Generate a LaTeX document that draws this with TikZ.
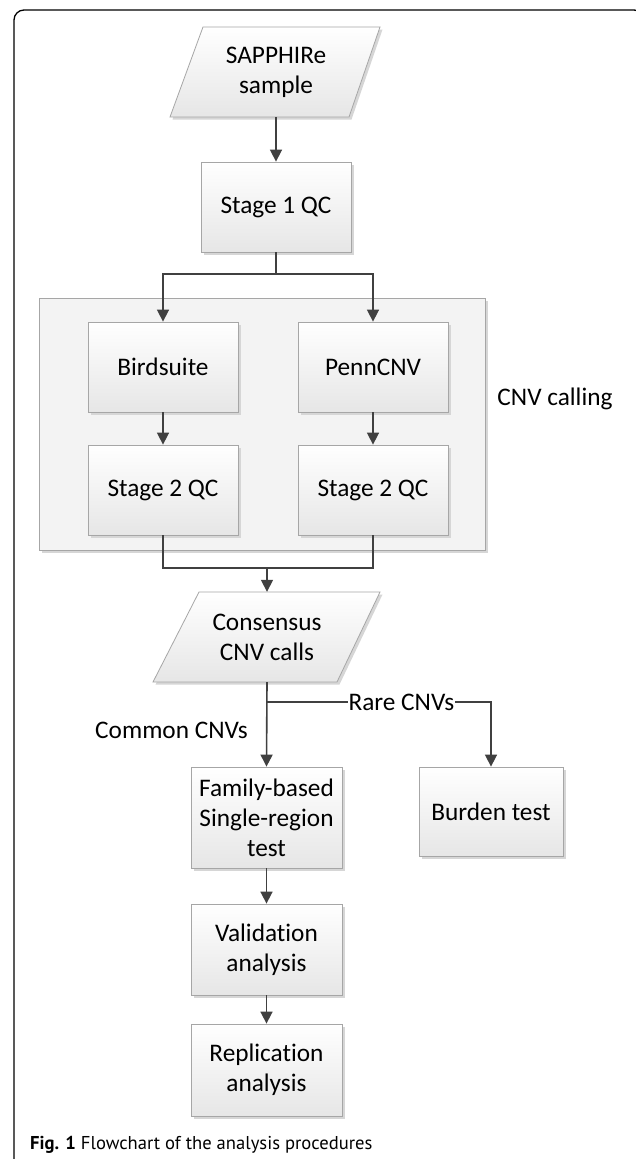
\documentclass[tikz,border=0pt]{standalone}
\usepackage{fontspec}
\setmainfont{Carlito}[RawFeature={-liga;-calt;-clig;-dlig}]
\newfontfamily\capfont{PT Sans}
\usetikzlibrary{arrows.meta,shadows}
\definecolor{linec}{HTML}{404040}
\definecolor{boxb}{HTML}{A6A6A6}
\definecolor{boxbot}{HTML}{E6E6E6}
\definecolor{contf}{HTML}{F3F3F3}
\definecolor{shad}{HTML}{D6D6D6}
\begin{document}
\begin{tikzpicture}[x=1pt,y=-1pt,
  txt/.style={font=\fontsize{25.3}{30}\selectfont, align=center, inner sep=0pt},
  box/.style={txt, draw=boxb, line width=0.8pt, top color=white, bottom color=boxbot,
    minimum width=150pt, minimum height=90pt,
    drop shadow={shadow xshift=2.5pt, shadow yshift=-2.5pt, fill=shad, opacity=1}},
  cont/.style={draw=boxb, line width=0.8pt, fill=contf,
    drop shadow={shadow xshift=2.5pt, shadow yshift=-2.5pt, fill=shad, opacity=1}},
  para/.style={draw=boxb, line width=0.8pt, top color=white, bottom color=boxbot},
  ln/.style={draw=linec, line width=1.6pt},
  arr/.style={ln, -{Triangle[length=12pt,width=12pt]}},
  lbl/.style={txt, fill=white, inner sep=1pt}]
\useasboundingbox (0,0) rectangle (636,1159);
\fill[white] (0,0) rectangle (636,1159);
% outer frame
\draw[line width=1.3pt, rounded corners=10pt] (14,1175) -- (14,10) -- (644,10) -- (644,1175);
% container
\node[cont, minimum width=446pt, minimum height=252pt] (calling) at (262,424) {};
\node[txt] (cnvlbl) at (555,399) {CNV calling};
% SAPPHIRe parallelogram
\fill[shad] (205.5,29.5) -- (382.5,29.5) -- (351.5,119.5) -- (172.5,119.5) -- cycle;
\path[para] (203,27) -- (380,27) -- (349,117) -- (170,117) -- cycle;
\node[txt, minimum width=210pt, minimum height=90pt] (sap) at (276,72) {SAPPHIRe\\sample};
% boxes
\node[box] (stage1) at (276,207) {Stage 1 QC};
\node[box] (bird) at (163,367) {Birdsuite};
\node[box] (penn) at (373,367) {PennCNV};
\node[box] (qc2a) at (163,490) {Stage 2 QC};
\node[box] (qc2b) at (373,490) {Stage 2 QC};
% Consensus parallelogram
\fill[shad] (201.5,594.5) -- (382.5,594.5) -- (339.5,684.5) -- (155.5,684.5) -- cycle;
\path[para] (199,592) -- (380,592) -- (337,682) -- (153,682) -- cycle;
\node[txt, minimum width=227pt, minimum height=90pt] (cons) at (267,637) {Consensus\\CNV calls};
\node[box, minimum width=151pt, minimum height=101pt] (family) at (266.5,817.5) {Family-based\\Single-region\\test};
\node[box, minimum width=144pt, minimum height=89pt] (burden) at (491,811.5) {Burden test};
\node[box, minimum width=151pt, minimum height=91pt] (valid) at (266.5,949.5) {Validat\kern0pt ion\\analysis};
\node[box, minimum width=151pt, minimum height=92pt] (repl) at (266.5,1070) {Replicat\kern0pt ion\\analysis};
% connectors
\coordinate (split) at (276,274);
\coordinate (merge) at (267,568);
\coordinate (rb) at (267,702);
\coordinate (rc) at (491,702);
\draw[arr] (sap.south) -- (stage1.north);
\draw[ln] (stage1.south) -- (split);
\draw[arr] (split) -| (bird.north);
\draw[arr] (split) -| (penn.north);
\draw[arr] (bird.south) -- (qc2a.north);
\draw[arr] (penn.south) -- (qc2b.north);
\draw[ln] (qc2a.south) |- (merge);
\draw[ln] (qc2b.south) |- (merge);
\draw[arr] (merge) -- (cons.north);
\draw[arr] (cons.south) -- (family.north);
\draw[arr] (rb) -- node[lbl, pos=0.6] (rarelbl) {Rare CNVs} (rc) -- (burden.north);
\node[txt] (commonlbl) at (171.5,730) {Common CNVs};
\draw[arr] (family.south) -- (valid.north);
\draw[arr] (valid.south) -- (repl.north);
% caption
\node[anchor=west, inner sep=0pt, font=\capfont\fontsize{18.6}{20}\selectfont] (cap) at (30,1145) {\textbf{Fig. 1} Flowchart of the analysis procedures};
\end{tikzpicture}
\end{document}
